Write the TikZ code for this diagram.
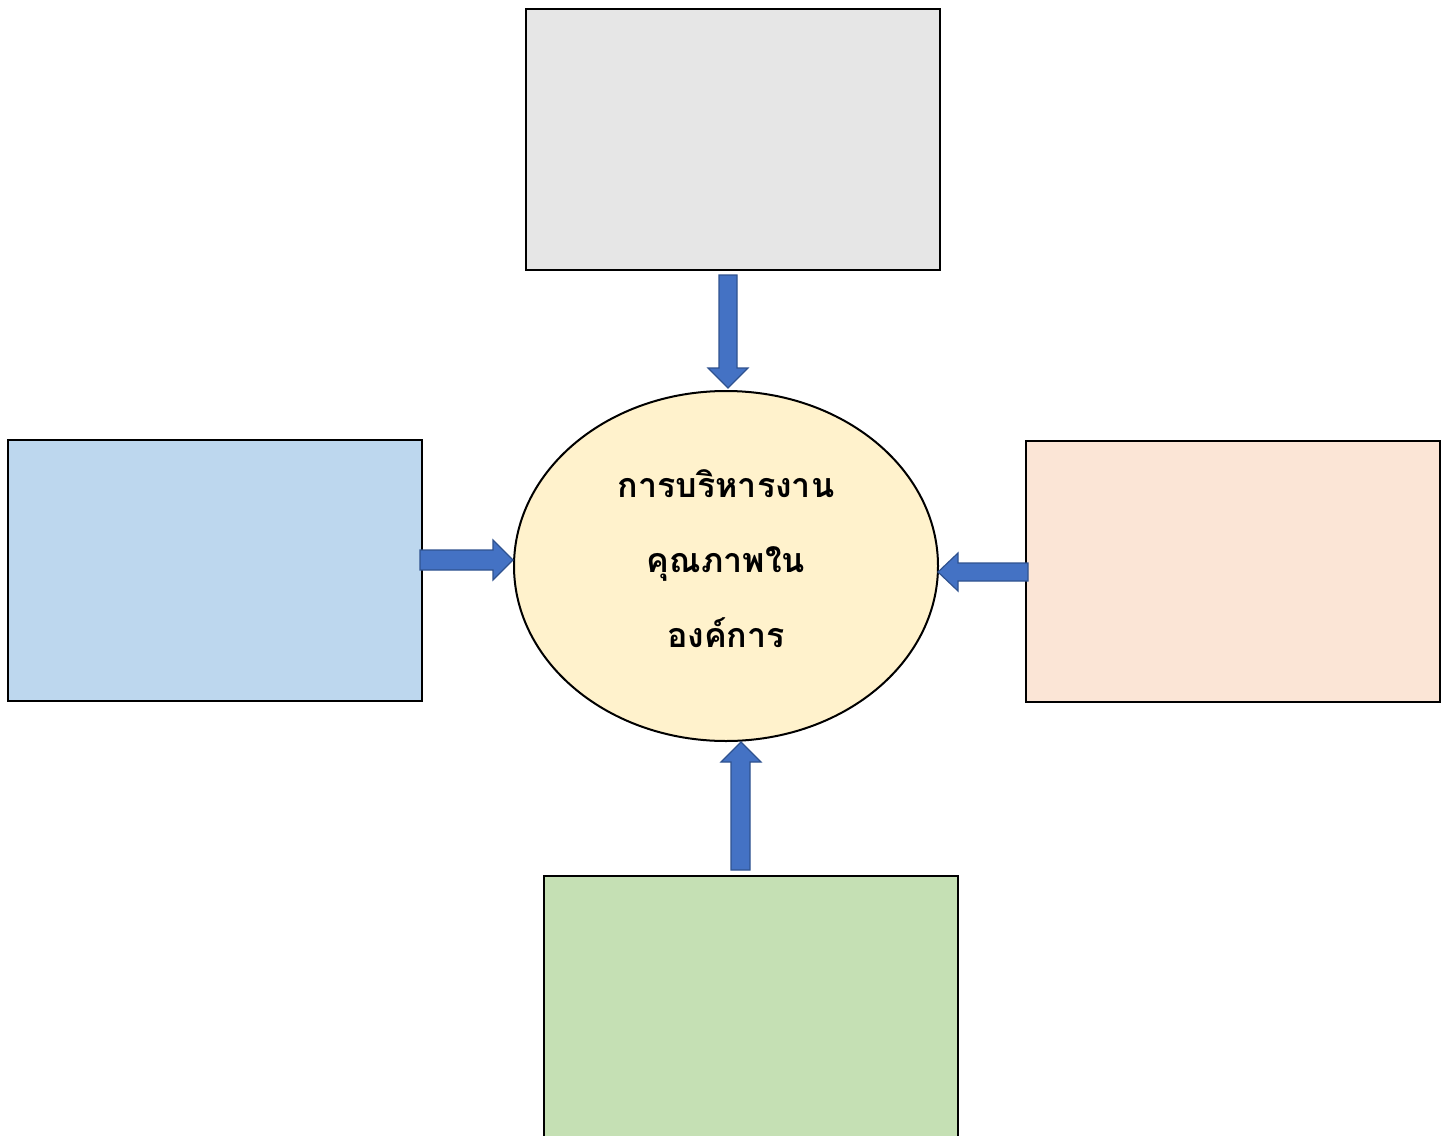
\documentclass[tikz,border=0pt]{standalone}
\usepackage{fontspec}
\newfontfamily\thaifont[Script=Thai]{Loma}
\usetikzlibrary{shapes.geometric,calc}
\definecolor{arrowfill}{HTML}{4472C4}
\definecolor{arrowline}{HTML}{2F528F}
\definecolor{topfill}{HTML}{E6E6E6}
\definecolor{leftfill}{HTML}{BDD7EE}
\definecolor{rightfill}{HTML}{FBE5D6}
\definecolor{bottomfill}{HTML}{C5E0B4}
\definecolor{centerfill}{HTML}{FFF2CC}
\tikzset{
  box/.style={draw=black, line width=2pt, minimum width=414pt, minimum height=261pt, inner sep=0pt},
  blockarrow/.style={fill=arrowfill, draw=arrowline, line width=1.2pt, line join=miter},
}
\begin{document}
\begin{tikzpicture}[x=1pt,y=-1pt]
\useasboundingbox (0,0) rectangle (1448,1135);
\node[box, fill=topfill] (top) at (733,139.5) {};
\node[box, fill=leftfill] (left) at (215,570.5) {};
\node[box, fill=rightfill] (right) at (1233,571.5) {};
\begin{scope}
\clip (0,0) rectangle (1448,1135);
\node[box, fill=bottomfill] (bottom) at (751,1006.5) {};
\end{scope}
\node[ellipse, draw=black, line width=2pt, fill=centerfill, minimum width=424pt, minimum height=350pt, inner sep=0pt] (center) at (726,566) {};
\node[align=center, font=\thaifont\bfseries\fontsize{34}{75}\selectfont] (label) at (726,559) {การบริหารงาน\\คุณภาพใน\\องค์การ};
% top arrow (down)
\draw[blockarrow] (719,275) -- (737,275) -- (737,368) -- (748,368) -- (728,388) -- (708,368) -- (719,368) -- cycle;
% left arrow (right)
\draw[blockarrow] (420,550) -- (493,550) -- (493,540) -- (513,560) -- (493,580) -- (493,570) -- (420,570) -- cycle;
% right arrow (left)
\draw[blockarrow] (1028,563) -- (958,563) -- (958,553) -- (938,572) -- (958,591) -- (958,581) -- (1028,581) -- cycle;
% bottom arrow (up)
\draw[blockarrow] (731,870) -- (750,870) -- (750,762) -- (761,762) -- (741,742) -- (721,762) -- (731,762) -- cycle;
\end{tikzpicture}
\end{document}
